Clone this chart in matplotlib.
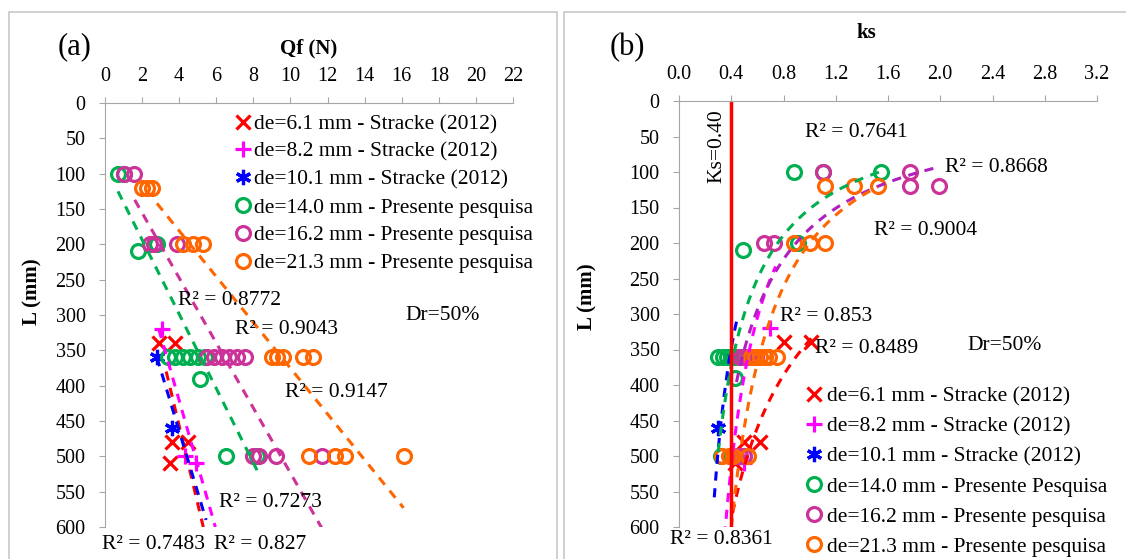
import numpy as np
import matplotlib
matplotlib.use("Agg")
import matplotlib.pyplot as plt
from matplotlib.patches import Rectangle

plt.rcParams['font.family'] = ['Liberation Serif', 'DejaVu Serif']

W, H = 1126, 559

series_labels_a = ["de=6.1 mm - Stracke (2012)", "de=8.2 mm - Stracke (2012)",
                   "de=10.1 mm - Stracke (2012)", "de=14.0 mm - Presente pesquisa",
                   "de=16.2 mm - Presente pesquisa", "de=21.3 mm - Presente pesquisa"]
series_labels_b = ["de=6.1 mm - Stracke (2012)", "de=8.2 mm - Stracke (2012)",
                   "de=10.1 mm - Stracke (2012)", "de=14.0 mm - Presente Pesquisa",
                   "de=16.2 mm - Presente pesquisa", "de=21.3 mm - Presente pesquisa"]

# panel (a): Qf (N) against L (mm)
red_qf = [2.9, 3.8, 3.6, 4.5, 3.5]
red_L = [340, 340, 480, 480, 510]
mag_qf = [3.1, 4.3, 4.9]
mag_L = [320, 500, 510]
blue_qf = [2.8, 3.6]
blue_L = [360, 460]
green_qf = [0.7, 1.0, 1.77, 2.83, 3.4, 3.8, 4.2, 4.6, 5.0, 5.4, 5.1, 6.55, 8.2]
green_L = [100, 100, 210, 200, 360, 360, 360, 360, 360, 360, 390, 500, 500]
purple_qf = [1.0, 1.58, 2.4, 2.64, 3.9, 5.5, 5.9, 6.3, 6.7, 7.1, 7.55, 8.0, 8.3, 9.2, 11.7]
purple_L = [100, 100, 200, 200, 200, 360, 360, 360, 360, 360, 360, 500, 500, 500, 500]
orange_qf = [1.97, 2.25, 2.54, 4.2, 4.76, 5.3, 9.0, 9.3, 9.6, 10.7, 11.2, 11.0, 12.4, 12.95, 16.1]
orange_L = [120, 120, 120, 200, 200, 200, 360, 360, 360, 360, 360, 500, 500, 500, 500]

# linear trend lines of (a), end points (Qf, L)
trend_a = [
    ([3.3, 5.3], [380, 600]),
    ([2.9, 5.95], [320, 600]),
    ([2.8, 5.45], [360, 590]),
    ([0.7, 8.3], [125, 525]),
    ([1.6, 11.7], [137, 602]),
    ([2.8, 16.1], [142, 573]),
]
r2_a = ["0.7483", "0.827", "0.7273", "0.8772", "0.9043", "0.9147"]
r2_a_pos = [(-0.16, 625), (5.88, 625), (6.15, 566), (3.94, 279), (7.01, 321), (9.70, 409)]

# panel (b): ks against L (mm)
red_ks = [0.80, 1.01, 0.50, 0.62, 0.43]
mag_ks = [0.70, 0.46, 0.50]
blue_ks = [0.39, 0.30]
green_ks = [0.88, 1.10, 1.55, 0.49, 0.91, 0.30, 0.34, 0.37, 0.40, 0.43, 0.43, 0.32, 0.40]
green_Lb = [100, 100, 100, 210, 200, 360, 360, 360, 360, 360, 390, 500, 500]
purple_ks = [1.10, 1.77, 1.77, 1.99, 0.65, 0.73, 0.47, 0.50, 0.53, 0.56, 0.59, 0.44, 0.47, 0.50]
purple_Lb = [100, 100, 120, 120, 200, 200, 360, 360, 360, 360, 360, 500, 500, 500]
orange_ks = [1.12, 1.34, 1.52, 0.88, 1.00, 1.12, 0.55, 0.58, 0.62, 0.66, 0.69, 0.75, 0.33, 0.38, 0.41, 0.53]
orange_Lb = [120, 120, 120, 200, 200, 200, 360, 360, 360, 360, 360, 360, 500, 500, 500, 500]

# power trend lines of (b): L = a * ks^b over [ks_lo, ks_hi]
trend_b = [
    (337, -0.61, 0.41, 1.05),
    (158, -1.29, 0.35, 0.74),
    (116, -1.20, 0.27, 0.44),
    (152, -0.98, 0.30, 1.55),
    (180, -0.96, 0.44, 2.00),
    (200, -1.20, 0.40, 1.52),
]
r2_b = ["0.8361", "0.853", "0.8489", "0.7641", "0.8668", "0.9004"]
r2_b_pos = [(-0.07, 618), (0.77, 304), (1.04, 348), (0.965, 45), (2.04, 93), (1.49, 182)]
ks_limit = 0.40

colors = ['#FF0000', '#FF00FF', '#0000FF', '#00B050', '#CC3399', '#FF6600']
trend_colors_b = ['#FF0000', '#FF00FF', '#0000FF', '#00B050', '#B020C0', '#FF6600']
markers = ['x', '+', (6, 2, 0), 'o', 'o', 'o']
msizes = [10, 12, 11, 10, 10, 10]


def px(x, y):
    return x / W, 1 - y / H


fig = plt.figure(figsize=(W / 100, H / 100), dpi=100)
for x0, x1 in [(9, 557), (564, 1140)]:
    fig.patches.append(Rectangle(px(x0, 600), (x1 - x0) / W, (600 - 12) / H,
                                 transform=fig.transFigure, fill=False,
                                 edgecolor='#C8C8C8', lw=1.2))

ax_a = fig.add_axes([105 / W, 1 - 527 / H, 408 / W, 424 / H])
ax_b = fig.add_axes([679 / W, 1 - 527 / H, 418 / W, 426 / H])


def setup(ax, xmax, step):
    ax.set_ylim(600, 0)
    ax.set_xlim(0, xmax)
    ax.set_yticks(np.arange(0, 601, 50))
    ax.set_xticks(np.arange(0, xmax + step / 2, step))
    ax.xaxis.tick_top()
    ax.patch.set_alpha(0)
    for s in ['right', 'bottom']:
        ax.spines[s].set_visible(False)
    for s in ['left', 'top']:
        ax.spines[s].set_color('#A6A6A6')
    ax.tick_params(axis='both', colors='#A6A6A6', labelcolor='black', length=4,
                   labelsize=14.5)
    ax.tick_params(axis='x', pad=8)
    ax.tick_params(axis='y', pad=10)


setup(ax_a, 22, 2)
setup(ax_b, 3.2, 0.4)
ax_b.xaxis.set_major_formatter(matplotlib.ticker.FormatStrFormatter('%.1f'))

xs_a = [red_qf, mag_qf, blue_qf, green_qf, purple_qf, orange_qf]
ys_a = [red_L, mag_L, blue_L, green_L, purple_L, orange_L]
xs_b = [red_ks, mag_ks, blue_ks, green_ks, purple_ks, orange_ks]
ys_b = [red_L, mag_L, blue_L, green_Lb, purple_Lb, orange_Lb]

handles_a, handles_b = [], []
for i in range(6):
    kw = dict(linestyle='none', marker=markers[i], ms=msizes[i], color=colors[i],
              mec=colors[i], mew=2.3)
    if markers[i] == 'o':
        kw['mfc'] = 'none'
    h, = ax_a.plot(xs_a[i], ys_a[i], label=series_labels_a[i], **kw)
    handles_a.append(h)
    h, = ax_b.plot(xs_b[i], ys_b[i], label=series_labels_b[i], **kw)
    handles_b.append(h)

for i, (tx, tl) in enumerate(trend_a):
    ax_a.plot(tx, tl, color=colors[i], lw=2.2, ls=(0, (3, 2.5)))
for i, (a, b, lo, hi) in enumerate(trend_b):
    ks = np.linspace(lo, hi, 120)
    ax_b.plot(ks, a * ks ** b, color=trend_colors_b[i], lw=2.2, ls=(0, (3, 2.5)))

ax_b.axvline(ks_limit, color='#FF0000', lw=2.5)
ax_b.text(0.29, 64, 'Ks=0.40', rotation=90, ha='center', va='center', fontsize=15.5)

for t, (x, y) in zip(r2_a, r2_a_pos):
    ax_a.text(x, y, 'R² = ' + t, fontsize=15.5, va='center', ha='left', clip_on=False)
for t, (x, y) in zip(r2_b, r2_b_pos):
    ax_b.text(x, y, 'R² = ' + t, fontsize=15.5, va='center', ha='left', clip_on=False)

ax_a.text(16.2, 300, 'Dr=50%', fontsize=15.5, va='center')
ax_b.text(2.21, 344, 'Dr=50%', fontsize=15.5, va='center')

ax_a.legend(handles=handles_a, loc='upper left', bbox_to_anchor=px(234, 114),
            bbox_transform=fig.transFigure, frameon=False, fontsize=15.5,
            handlelength=0.8, handletextpad=0.15, labelspacing=0.36,
            borderpad=0, borderaxespad=0, numpoints=1)
ax_b.legend(handles=handles_b, loc='upper left', bbox_to_anchor=px(805, 386),
            bbox_transform=fig.transFigure, frameon=False, fontsize=15.5,
            handlelength=0.8, handletextpad=0.2, labelspacing=0.47,
            borderpad=0, borderaxespad=0, numpoints=1)

fig.text(*px(309, 48), 'Qf (N)', ha='center', va='center', fontsize=15, fontweight='bold')
fig.text(*px(866, 33), 'ks', ha='center', va='center', fontsize=15, fontweight='bold')
fig.text(*px(32, 292), 'L (mm)', ha='center', va='center', fontsize=15,
         fontweight='bold', rotation=90)
fig.text(*px(587, 297), 'L (mm)', ha='center', va='center', fontsize=15,
         fontweight='bold', rotation=90)
fig.text(*px(75, 47), '(a)', ha='center', va='center', fontsize=22)
fig.text(*px(627, 48), '(b)', ha='center', va='center', fontsize=22)

fig.savefig('out.png', dpi=100)
